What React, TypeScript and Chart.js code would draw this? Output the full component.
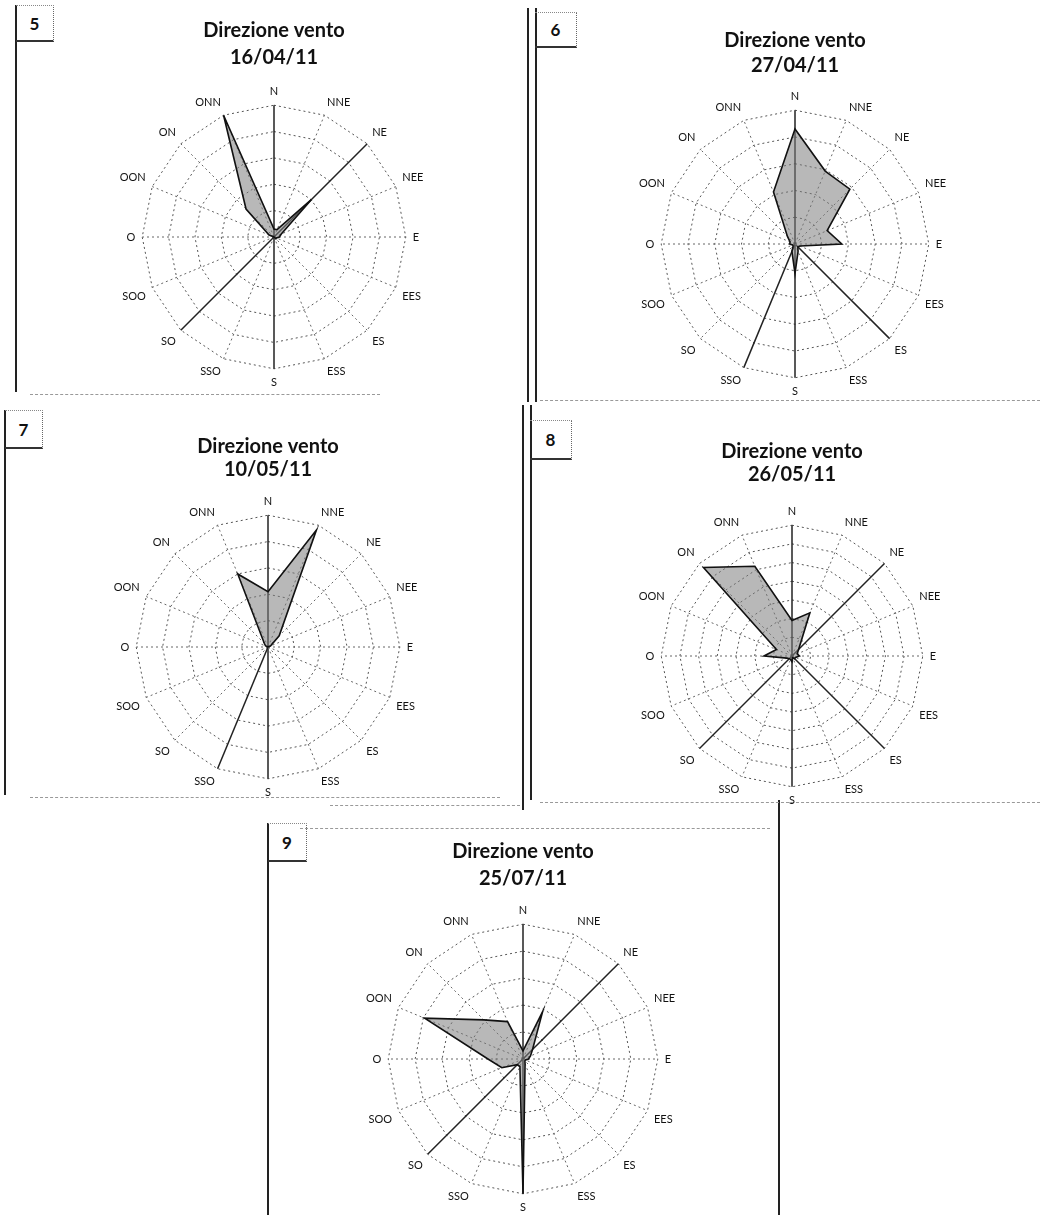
import React, { useEffect, useRef } from 'react';
import { Chart, registerables } from 'chart.js';

Chart.register(...registerables);

// ---------- data ----------
const directions = ['N', 'NNE', 'NE', 'NEE', 'E', 'EES', 'ES', 'ESS', 'S', 'SSO', 'SO', 'SOO', 'O', 'OON', 'ON', 'ONN'];
const titleText = 'Direzione vento';
const dates = ['16/04/11', '27/04/11', '10/05/11', '26/05/11', '25/07/11'];
const panelNumbers = ['5', '6', '7', '8', '9'];

const wind160411 = [0.3, 0.3, 2.0, 0.3, 0.2, 0.1, 0.1, 0, 0, 0, 0, 0, 0, 0.2, 1.5, 5.0];
const wind270411 = [4.3, 2.95, 2.9, 1.3, 1.75, 0.2, 0.15, 0.3, 1.1, 0.3, 0.1, 0.1, 0.2, 0.2, 0.4, 2.1];
const wind100511 = [2.1, 4.8, 0.6, 0.1, 0, 0, 0, 0, 0, 0, 0, 0, 0, 0.1, 0.2, 3.0];
const wind260511 = [1.9, 2.5, 0.5, 0.3, 0.4, 0.2, 0.2, 0.1, 0.3, 0.2, 0.2, 0.3, 1.5, 0.9, 6.7, 5.2];
const wind250711 = [0.3, 1.9, 0.5, 0.3, 0.2, 0.1, 0.1, 0.2, 5.0, 0.3, 0.3, 0.85, 1.3, 3.95, 2.05, 1.5];

const series = [wind160411, wind270411, wind100511, wind260511, wind250711];
const scaleMax = [5, 5, 5, 7, 5];

// ---------- layout / style ----------
const LABEL_FONT = 11;
const LABEL_PAD = 7;
const TITLE_FONT = 20;

const layouts = [
  { cx: 274, cy: 237, r: 131, y1: 30, lh: 27, solid: [0, 2, 8, 10] },
  { cx: 795, cy: 244, r: 133, y1: 40, lh: 25, solid: [0, 6, 8, 9] },
  { cx: 268, cy: 647, r: 131, y1: 446, lh: 23, solid: [0, 8, 9] },
  { cx: 792, cy: 656, r: 130, y1: 451, lh: 23, solid: [0, 2, 6, 8, 10] },
  { cx: 523, cy: 1059, r: 134, y1: 851, lh: 27, solid: [0, 2, 8, 10] },
];

const boxes = [
  { left: 16, top: 5, w: 38, h: 37 },
  { left: 535, top: 12, w: 42, h: 36 },
  { left: 5, top: 410, w: 38, h: 39 },
  { left: 530, top: 420, w: 42, h: 40 },
  { left: 268, top: 823, w: 39, h: 39 },
];

const vLines = [
  { x: 15, y1: 5, y2: 392 },
  { x: 527, y1: 8, y2: 402 },
  { x: 535, y1: 8, y2: 402 },
  { x: 4, y1: 410, y2: 795 },
  { x: 522, y1: 405, y2: 810 },
  { x: 530, y1: 405, y2: 800 },
  { x: 267, y1: 823, y2: 1215 },
  { x: 778, y1: 800, y2: 1215 },
];

const hLines = [
  { y: 394, x1: 30, x2: 380 },
  { y: 400, x1: 540, x2: 1040 },
  { y: 797, x1: 30, x2: 500 },
  { y: 802, x1: 540, x2: 1040 },
  { y: 805, x1: 330, x2: 520 },
  { y: 828, x1: 300, x2: 770 },
];

function RadarPanel({ idx }: { idx: number }) {
  const ref = useRef<HTMLCanvasElement>(null);
  const L = layouts[idx];
  const m = LABEL_PAD + LABEL_FONT * 1.2;
  const half = Math.ceil(L.r + m);
  const areaH = 2 * half;
  const areaW = areaH + 100;
  const top = Math.round(L.y1 - L.lh / 2);
  const titlePadBottom = Math.round(L.cy - half - top - 2 * L.lh);
  const height = 2 * L.lh + titlePadBottom + areaH;
  const left = Math.round(L.cx - areaW / 2);

  useEffect(() => {
    if (!ref.current) return;
    const solid = L.solid;
    const chart = new Chart(ref.current, {
      type: 'radar',
      data: {
        labels: directions,
        datasets: [
          {
            data: series[idx],
            backgroundColor: 'rgba(125,125,125,0.55)',
            borderColor: '#111',
            borderWidth: 1.6,
            pointRadius: 0,
            fill: true,
            tension: 0,
          },
        ],
      },
      options: {
        responsive: false,
        maintainAspectRatio: false,
        animation: false,
        layout: { padding: 0 },
        plugins: {
          legend: { display: false },
          tooltip: { enabled: false },
          title: {
            display: true,
            text: [titleText, dates[idx]],
            color: '#111',
            font: { family: 'Lato', size: TITLE_FONT, weight: 'bold', lineHeight: L.lh / TITLE_FONT },
            padding: { top: 0, bottom: titlePadBottom },
          },
        },
        scales: {
          r: {
            min: 0,
            max: scaleMax[idx],
            ticks: { display: false, stepSize: 1 },
            grid: { circular: false, color: '#555', lineWidth: 1 },
            border: { dash: [2, 3] },
            angleLines: {
              display: true,
              color: (c: any) => (solid.includes(c.index) ? '#222' : '#666'),
              lineWidth: (c: any) => (solid.includes(c.index) ? 1.5 : 1),
              borderDash: (c: any) => (solid.includes(c.index) ? [] : [2, 3]),
            },
            pointLabels: {
              display: true,
              padding: LABEL_PAD,
              color: '#111',
              font: { family: 'Lato', size: LABEL_FONT },
            },
          },
        },
      },
    } as any);
    return () => chart.destroy();
  }, [idx]);

  return (
    <canvas
      ref={ref}
      width={areaW}
      height={height}
      style={{ position: 'absolute', left, top, width: areaW, height }}
    />
  );
}

export default function App() {
  return (
    <div
      style={{
        position: 'absolute',
        left: 0,
        top: 0,
        width: 1047,
        height: 1222,
        background: '#fff',
        overflow: 'hidden',
        fontFamily: 'Lato, sans-serif',
      }}
    >
      {vLines.map((l, i) => (
        <div
          key={'v' + i}
          style={{ position: 'absolute', left: l.x, top: l.y1, width: 1.5, height: l.y2 - l.y1, background: '#222' }}
        />
      ))}
      {hLines.map((l, i) => (
        <div
          key={'h' + i}
          style={{ position: 'absolute', left: l.x1, top: l.y, width: l.x2 - l.x1, height: 0, borderTop: '1px dashed #999' }}
        />
      ))}
      {boxes.map((b, i) => (
        <div
          key={'b' + i}
          style={{
            position: 'absolute',
            left: b.left,
            top: b.top,
            width: b.w,
            height: b.h,
            boxSizing: 'border-box',
            borderTop: '1px dotted #888',
            borderRight: '1px dotted #666',
            borderBottom: '2px solid #333',
            display: 'flex',
            alignItems: 'center',
            justifyContent: 'center',
            fontSize: 17,
            fontWeight: 'bold',
            color: '#111',
          }}
        >
          {panelNumbers[i]}
        </div>
      ))}
      {layouts.map((_, i) => (
        <RadarPanel key={i} idx={i} />
      ))}
    </div>
  );
}
